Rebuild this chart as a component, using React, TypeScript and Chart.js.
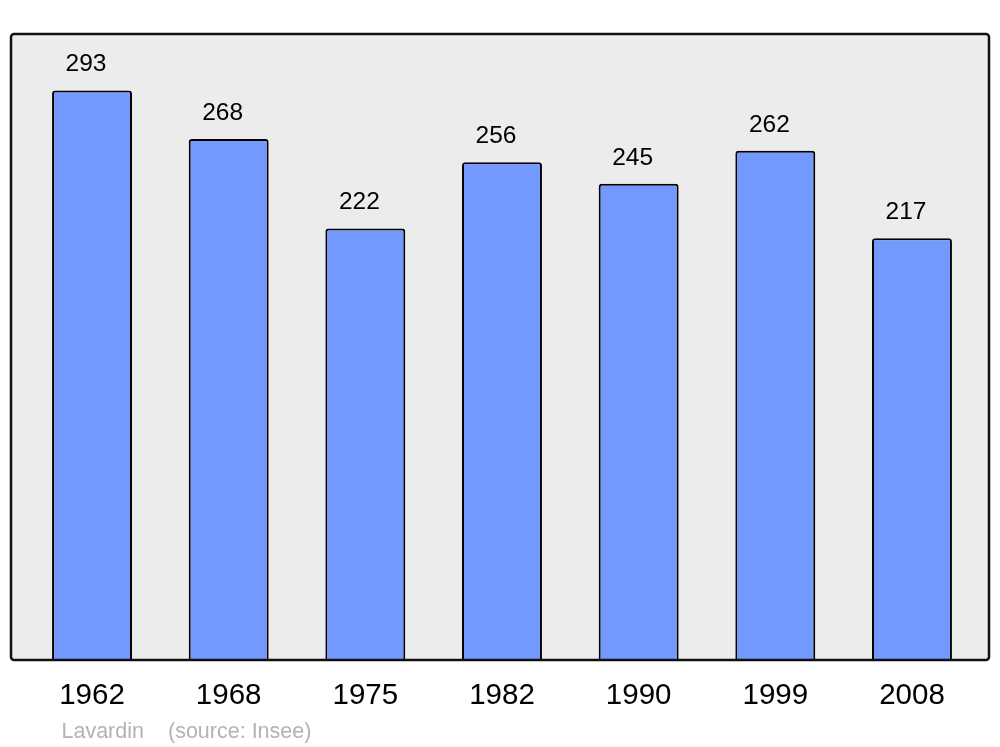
import React, { useEffect, useRef } from "react";
import { Chart, registerables } from "chart.js";

Chart.register(...registerables);

const years = ["1962", "1968", "1975", "1982", "1990", "1999", "2008"];
const population = [293, 268, 222, 256, 245, 262, 217];
const sourceLabel = "Lavardin";
const sourceNote = "(source: Insee)";

const FONT = "'Liberation Sans', Arial, sans-serif";

const boxPlugin = {
  id: "boxPlugin",
  beforeDraw(chart: any) {
    const { ctx, chartArea } = chart;
    const x0 = chartArea.left - 12.7;
    const x1 = chartArea.right + 8.7;
    const y0 = chartArea.top;
    const y1 = chartArea.bottom;
    ctx.save();
    ctx.beginPath();
    ctx.roundRect(x0, y0, x1 - x0, y1 - y0, 3);
    ctx.fillStyle = "#ececec";
    ctx.fill();
    ctx.restore();
  },
  afterDatasetsDraw(chart: any) {
    const { ctx, chartArea } = chart;
    const x0 = chartArea.left - 12.7;
    const x1 = chartArea.right + 8.7;
    const y0 = chartArea.top;
    const y1 = chartArea.bottom;
    ctx.save();
    ctx.beginPath();
    ctx.roundRect(x0, y0, x1 - x0, y1 - y0, 3);
    ctx.lineWidth = 2.5;
    ctx.strokeStyle = "#111111";
    ctx.stroke();

    const meta = chart.getDatasetMeta(0);
    ctx.fillStyle = "#000000";
    ctx.font = `24.5px ${FONT}`;
    ctx.textAlign = "center";
    ctx.textBaseline = "alphabetic";
    meta.data.forEach((bar: any, i: number) => {
      ctx.fillText(String(population[i]), bar.x - 6, bar.y - 19);
    });

    ctx.fillStyle = "#b3b3b3";
    ctx.font = `21.5px ${FONT}`;
    ctx.textAlign = "left";
    ctx.textBaseline = "alphabetic";
    ctx.fillText(sourceLabel, x0 + 50.5, 738);
    ctx.fillText(sourceNote, x0 + 157, 738);
    ctx.restore();
  },
};

export default function App() {
  const ref = useRef<HTMLCanvasElement | null>(null);
  useEffect(() => {
    if (!ref.current) return;
    const chart = new Chart(ref.current, {
      type: "bar",
      data: {
        labels: years,
        datasets: [
          {
            data: population,
            backgroundColor: "#7399ff",
            borderColor: "#000000",
            borderWidth: 2,
            borderRadius: { topLeft: 3, topRight: 3, bottomLeft: 0, bottomRight: 0 },
            borderSkipped: "bottom",
            barPercentage: 0.585,
            categoryPercentage: 1,
          },
        ],
      },
      options: {
        responsive: false,
        animation: false,
        layout: { padding: { left: 23.7, right: 19.7, top: 34, bottom: 0 } },
        plugins: {
          legend: { display: false },
          tooltip: { enabled: false },
        },
        scales: {
          y: { display: false, min: 0, max: 322 },
          x: {
            grid: { display: false, drawTicks: false },
            border: { display: false },
            ticks: {
              color: "#000000",
              font: { family: FONT, size: 29.5 },
              padding: 18,
              maxRotation: 0,
            },
            afterFit: (scale: any) => {
              scale.height = 87;
            },
          },
        },
      },
      plugins: [boxPlugin],
    });
    return () => chart.destroy();
  }, []);
  return (
    <div style={{ position: "absolute", left: 0, top: 0, width: 1000, height: 747, background: "#ffffff" }}>
      <canvas ref={ref} width={1000} height={747} style={{ display: "block" }} />
    </div>
  );
}
